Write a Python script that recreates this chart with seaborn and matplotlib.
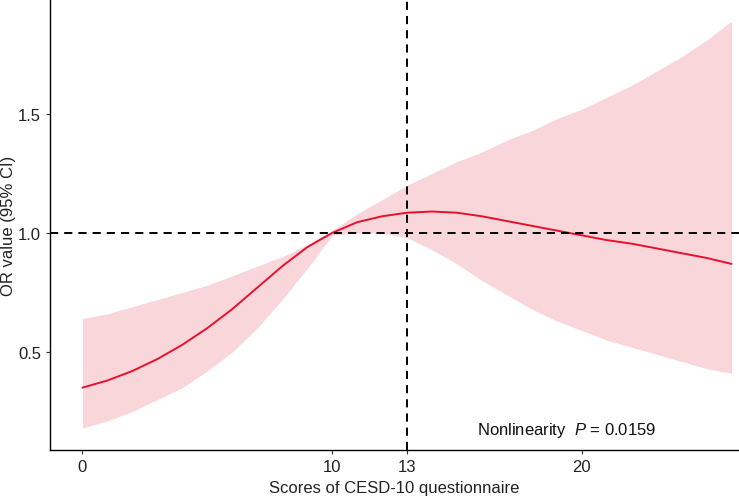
import matplotlib
matplotlib.use("Agg")
import matplotlib.pyplot as plt
import numpy as np
import pandas as pd
import seaborn as sns

# CESD-10 score vs OR (restricted cubic spline)
score = [0, 1, 2, 3, 4, 5, 6, 7, 8, 9, 10, 11, 12, 13,
         14, 15, 16, 17, 18, 19, 20, 21, 22, 23, 24, 25, 26]
or_value = [0.35, 0.38, 0.42, 0.47, 0.53, 0.60, 0.68, 0.77, 0.86, 0.94, 1.00, 1.045, 1.07, 1.085,
            1.09, 1.085, 1.07, 1.05, 1.03, 1.01, 0.99, 0.97, 0.955, 0.935, 0.915, 0.895, 0.87]
ci_upper = [0.64, 0.66, 0.69, 0.72, 0.75, 0.78, 0.82, 0.86, 0.90, 0.95, 1.01, 1.08, 1.14, 1.20,
            1.25, 1.30, 1.34, 1.39, 1.43, 1.48, 1.52, 1.57, 1.62, 1.68, 1.74, 1.81, 1.89]
ci_lower = [0.18, 0.21, 0.25, 0.30, 0.35, 0.42, 0.50, 0.60, 0.72, 0.85, 0.99, 1.00, 1.00, 0.98,
            0.93, 0.87, 0.80, 0.74, 0.68, 0.63, 0.59, 0.55, 0.52, 0.49, 0.46, 0.43, 0.41]

df = pd.DataFrame({"score": score, "or": or_value, "lo": ci_lower, "hi": ci_upper})

sns.set_style("ticks")
plt.rcParams["font.family"] = ["Liberation Sans", "DejaVu Sans"]
plt.rcParams["mathtext.fontset"] = "custom"
plt.rcParams["mathtext.it"] = "Liberation Sans:italic"
plt.rcParams["mathtext.rm"] = "Liberation Sans"

fig = plt.figure(figsize=(7.39, 5.02), dpi=100)
ax = fig.add_axes([0.0677, 0.1016, 0.9323, 0.8984])

ax.fill_between(df["score"], df["lo"], df["hi"], color="#f9d6d9", linewidth=0)
sns.lineplot(data=df, x="score", y="or", color="#e8112d", linewidth=1.4, ax=ax)

ax.axhline(1.0, color="black", linestyle=(0, (4.2, 3.1)), linewidth=1.4)
ax.axvline(13, color="black", linestyle=(0, (4.2, 3.1)), linewidth=1.4)

ax.text(15.8, 0.176, "Nonlinearity  $\\it{P}$ = 0.0159", fontsize=12, va="center",
        color="#111111")

ax.set_xlim(-1.3, 26.3)
ax.set_ylim(0.088, 1.983)
ax.set_xticks([0, 10, 13, 20])
ax.set_yticks([0.5, 1.0, 1.5])
ax.set_yticklabels(["0.5", "1.0", "1.5"])
ax.tick_params(labelsize=12, length=3, width=0.8, colors="#333333", labelcolor="#222222")
ax.set_xlabel("Scores of CESD-10 questionnaire", fontsize=12, color="#222222")
ax.set_ylabel("OR value (95% CI)", fontsize=12, color="#222222")
ax.yaxis.set_label_coords(-0.05, 0.5)
sns.despine(ax=ax)
for s in ["left", "bottom"]:
    ax.spines[s].set_linewidth(1.0)
    ax.spines[s].set_color("black")

fig.savefig("out.png", dpi=100)
